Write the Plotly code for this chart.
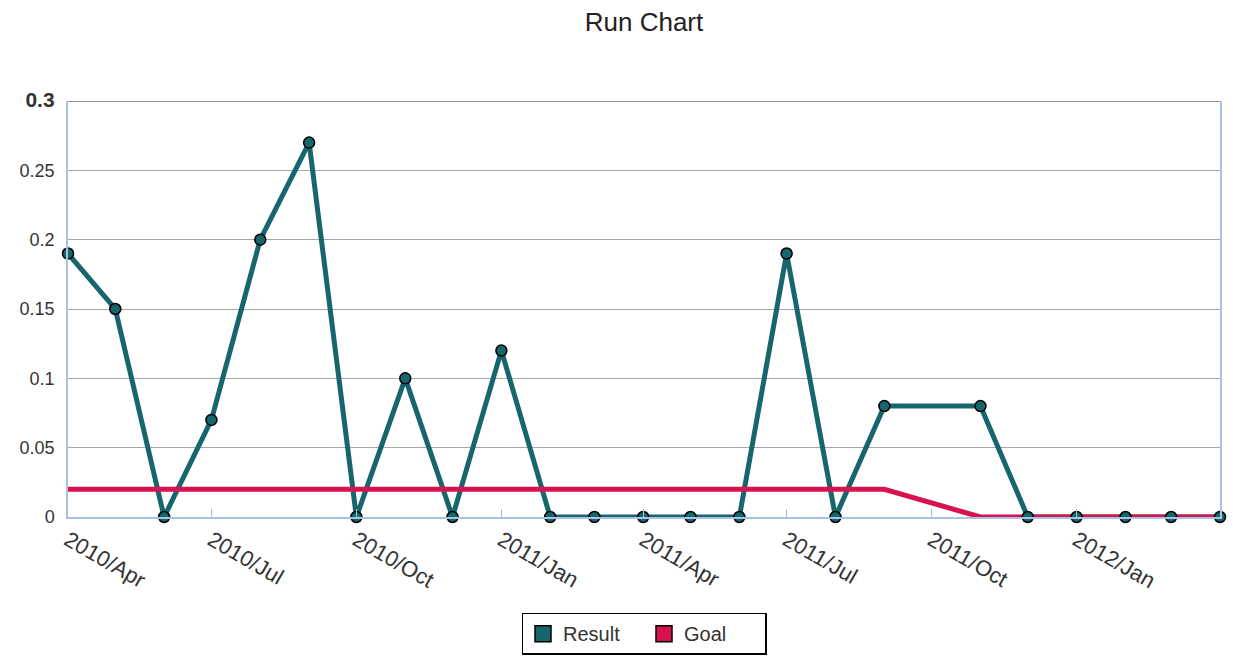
import plotly.graph_objects as go

months = ["2010-04-01", "2010-05-01", "2010-06-01", "2010-07-01", "2010-08-01", "2010-09-01",
          "2010-10-01", "2010-11-01", "2010-12-01", "2011-01-01", "2011-02-01", "2011-03-01",
          "2011-04-01", "2011-05-01", "2011-06-01", "2011-07-01", "2011-08-01", "2011-09-01",
          "2011-10-01", "2011-11-01", "2011-12-01", "2012-01-01", "2012-02-01", "2012-03-01",
          "2012-04-01"]
result = [0.19, 0.15, 0, 0.07, 0.2, 0.27, 0, 0.1, 0, 0.12, 0, 0, 0, 0, 0, 0.19, 0, 0.08,
          None, 0.08, 0, 0, 0, 0, 0]
goal = [0.02] * 18 + [None] + [0] * 6
y_ticks = [0, 0.05, 0.1, 0.15, 0.2, 0.25, 0.3]
y_labels = ["0", "0.05", "0.1", "0.15", "0.2", "0.25",
            "<span style='font-size:21px'><b>0.3</b></span>"]

TEAL = "#17666e"
RED = "#d7134f"
FONT = "Liberation Sans, Arial, sans-serif"

fig = go.Figure()
fig.add_trace(go.Scatter(x=months, y=result, mode="lines", connectgaps=True,
                         line=dict(color=TEAL, width=5), showlegend=False, hoverinfo="skip",
                         cliponaxis=False))
fig.add_trace(go.Scatter(x=months, y=goal, mode="lines", connectgaps=True,
                         line=dict(color=RED, width=5), name="Goal", showlegend=False,
                         cliponaxis=False))
fig.add_trace(go.Scatter(x=months, y=result, mode="markers", name="Result", showlegend=False,
                         marker=dict(color=TEAL, size=11, line=dict(color="black", width=1.5)),
                         cliponaxis=False))
# legend entries
fig.add_trace(go.Scatter(x=[None], y=[None], mode="markers", name="Result",
                         marker=dict(symbol="square", color=TEAL, size=18,
                                     line=dict(color="black", width=1.5))))
fig.add_trace(go.Scatter(x=[None], y=[None], mode="markers", name="Goal",
                         marker=dict(symbol="square", color=RED, size=18,
                                     line=dict(color="black", width=1.5))))

fig.add_shape(type="line", xref="paper", x0=0, x1=1, yref="y", y0=0.3, y1=0.3,
              line=dict(color="#6f7580", width=1.5), layer="above")

fig.update_layout(
    width=1233, height=669,
    margin=dict(l=68, r=13, t=101, b=152),
    paper_bgcolor="white", plot_bgcolor="white",
    font=dict(family=FONT, size=17, color="#333333"),
    title=dict(text="Run Chart", x=0.5, xref="paper", y=1 - 22 / 669, yanchor="middle",
               font=dict(family=FONT, size=26, color="#222222")),
    showlegend=True,
    legend=dict(orientation="h", x=0.5, xanchor="center", xref="paper",
                y=-0.23, yanchor="top",
                bordercolor="black", borderwidth=1.5, bgcolor="white",
                font=dict(family=FONT, size=20, color="#333333"),
                entrywidth=76, entrywidthmode="pixels"),
    xaxis=dict(type="date", range=["2010-04-01", "2012-04-01"],
               tick0="2010-04-01", dtick="M3", tickformat="%Y/%b", tickangle=30,
               showgrid=False, showline=True, linecolor="#a9c1e3", linewidth=1.5,
               ticks="inside", ticklen=8, tickcolor="#a9c1e3",
               tickfont=dict(family=FONT, size=22, color="#333333"), zeroline=False),
    yaxis=dict(range=[0, 0.3], tickvals=y_ticks, ticktext=y_labels,
               showgrid=True, gridcolor="#a6a6a6", gridwidth=1,
               showline=True, linecolor="#a9c1e3", linewidth=1.5, mirror=True,
               ticks="", ticklabelstandoff=8, zeroline=False,
               tickfont=dict(family=FONT, size=18, color="#333333")),
)

fig.write_html("out.html")
